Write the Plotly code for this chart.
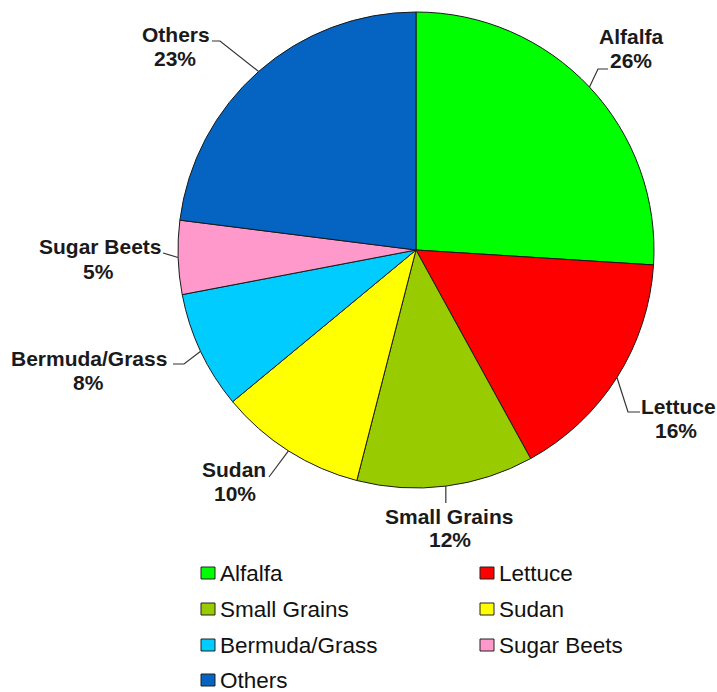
import math
import plotly.graph_objects as go

W, H = 717, 692

# Crop share data
crops = ["Alfalfa", "Lettuce", "Small Grains", "Sudan", "Bermuda/Grass", "Sugar Beets", "Others"]
shares = [26, 16, 12, 10, 8, 5, 23]
colors = ["#00FF00", "#FF0000", "#99CC00", "#FFFF00", "#00CCFF", "#FF99CC", "#0563C1"]

# Pie geometry in pixels
CX, CY, R = 416, 250, 238

# Label layout (pixels): name centre, percent centre, leader path after the pie edge
label_layout = {
    "Alfalfa":       dict(name=(631, 37), pct=(631, 61), path=[(598, 69), (608, 69)]),
    "Lettuce":       dict(name=(678, 406), pct=(676, 430), path=[(628, 412), (640, 412)]),
    "Small Grains":  dict(name=(449, 516), pct=(450, 539), path=[(None, 503)]),
    "Sudan":         dict(name=(234, 469), pct=(235, 493), path=[(269, 477)]),
    "Bermuda/Grass": dict(name=(89, 358), pct=(88, 382), path=[(184, 364), (173, 364)]),
    "Sugar Beets":   dict(name=(100, 247), pct=(98, 271), path=[(163, 253)]),
    "Others":        dict(name=(176, 35), pct=(175, 59), path=[(220, 41), (212, 41)]),
}

# Legend layout (pixels)
legend_cols = [208, 487]
legend_rows = [573, 609, 645, 680]
legend_text_dx = 10


def px(x):
    return x / W


def py(y):
    return 1 - y / H


fig = go.Figure()
fig.add_trace(go.Pie(
    labels=crops,
    values=shares,
    sort=False,
    direction="clockwise",
    rotation=0,
    marker=dict(colors=colors, line=dict(color="#1a1a1a", width=1)),
    textinfo="none",
    hoverinfo="label+percent",
    showlegend=False,
    domain=dict(x=[px(CX - R), px(CX + R)], y=[py(CY + R), py(CY - R)]),
))

shapes = []
annotations = []
label_font = dict(family="Arial, Liberation Sans, sans-serif", size=21, color="#1a1a1a")
total = sum(shares)
cum = 0
for crop, val in zip(crops, shares):
    mid = (cum + val / 2) / total * 2 * math.pi
    cum += val
    ex = CX + R * math.sin(mid)
    ey = CY - R * math.cos(mid)
    spec = label_layout[crop]
    pts = [(ex, ey)]
    for (x, y) in spec["path"]:
        pts.append((ex if x is None else x, y))
    path = "M " + " L ".join(f"{px(x):.5f},{py(y):.5f}" for x, y in pts)
    shapes.append(dict(type="path", xref="paper", yref="paper", path=path,
                       line=dict(color="#333333", width=1.2)))
    annotations.append(dict(x=px(spec["name"][0]), y=py(spec["name"][1]), xref="paper", yref="paper",
                            text=f"<b>{crop}</b>", showarrow=False, xanchor="center", yanchor="middle",
                            font=label_font))
    annotations.append(dict(x=px(spec["pct"][0]), y=py(spec["pct"][1]), xref="paper", yref="paper",
                            text=f"<b>{val}%</b>", showarrow=False, xanchor="center", yanchor="middle",
                            font=label_font))

# Two-column legend
for i, (crop, col) in enumerate(zip(crops, colors)):
    cx = legend_cols[i % 2]
    cy = legend_rows[i // 2]
    shapes.append(dict(type="rect", xref="paper", yref="paper",
                       x0=px(cx - 7), x1=px(cx + 7), y0=py(cy + 6), y1=py(cy - 6),
                       fillcolor=col, line=dict(color="#222222", width=1)))
    annotations.append(dict(x=px(cx + legend_text_dx), y=py(cy), xref="paper", yref="paper",
                            text=crop, showarrow=False, xanchor="left", yanchor="middle",
                            font=dict(family="Arial, Liberation Sans, sans-serif", size=22.5,
                                      color="#111111")))

fig.update_layout(
    width=W, height=H,
    margin=dict(l=0, r=0, t=0, b=0),
    paper_bgcolor="white",
    plot_bgcolor="white",
    shapes=shapes,
    annotations=annotations,
)

fig.write_html("out.html")
